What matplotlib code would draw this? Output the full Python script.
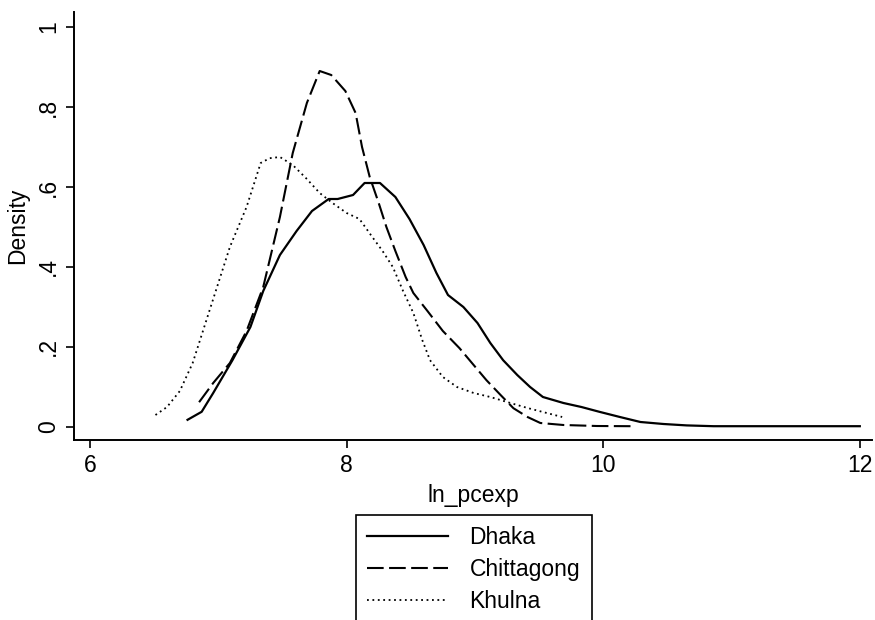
import matplotlib
matplotlib.use("Agg")
from matplotlib import pyplot as plt

plt.rcParams['font.family'] = ['Liberation Sans', 'DejaVu Sans']

# kernel density curves
dhaka_x = [6.76, 6.87, 6.96, 7.11, 7.25, 7.35, 7.48, 7.61, 7.73, 7.86, 7.93, 8.05, 8.14,
           8.26, 8.38, 8.49, 8.60, 8.70, 8.79, 8.91, 9.02, 9.12, 9.22, 9.33, 9.43, 9.53,
           9.69, 9.83, 9.97, 10.13, 10.29, 10.47, 10.65, 10.86, 11.2, 11.6, 12.0]
dhaka_y = [0.018, 0.038, 0.085, 0.167, 0.25, 0.34, 0.43, 0.49, 0.54, 0.57, 0.57, 0.58, 0.61,
           0.61, 0.575, 0.52, 0.455, 0.385, 0.33, 0.30, 0.26, 0.21, 0.167, 0.13, 0.10, 0.075,
           0.06, 0.05, 0.038, 0.025, 0.0125, 0.0075, 0.004, 0.002, 0.002, 0.002, 0.002]

chit_x = [6.85, 6.96, 7.09, 7.22, 7.35, 7.48, 7.58, 7.69, 7.79, 7.88, 7.99, 8.07, 8.12,
          8.18, 8.25, 8.31, 8.38, 8.46, 8.52, 8.63, 8.75, 8.88, 8.99, 9.09, 9.20, 9.30,
          9.41, 9.51, 9.69, 9.95, 10.22]
chit_y = [0.062, 0.11, 0.16, 0.24, 0.35, 0.525, 0.685, 0.81, 0.89, 0.88, 0.84, 0.785, 0.70,
          0.625, 0.56, 0.50, 0.44, 0.375, 0.335, 0.29, 0.24, 0.197, 0.155, 0.117, 0.08, 0.047,
          0.025, 0.01, 0.005, 0.0025, 0.002]

khulna_x = [6.51, 6.60, 6.70, 6.80, 6.88, 6.99, 7.09, 7.22, 7.33, 7.40, 7.48, 7.58, 7.69,
            7.79, 7.89, 8.00, 8.10, 8.20, 8.28, 8.36, 8.44, 8.52, 8.59, 8.65, 8.75, 8.86,
            8.99, 9.12, 9.25, 9.41, 9.56, 9.68]
khulna_y = [0.03, 0.05, 0.09, 0.16, 0.24, 0.35, 0.45, 0.55, 0.66, 0.672, 0.675, 0.655, 0.62,
            0.585, 0.56, 0.535, 0.52, 0.475, 0.44, 0.40, 0.34, 0.285, 0.217, 0.167, 0.125, 0.10,
            0.085, 0.075, 0.0625, 0.0475, 0.035, 0.025]

x_ticks = [6, 8, 10, 12]
y_ticks = [0, 0.2, 0.4, 0.6, 0.8, 1.0]
y_tick_labels = ['0', '.2', '.4', '.6', '.8', '1']

fs = 16.5

fig = plt.figure(figsize=(8.75, 6.2), dpi=100)
ax = fig.add_axes([74 / 875, 1 - 440 / 620, (872 - 74) / 875, (440 - 12) / 620])

ax.plot(dhaka_x, dhaka_y, color='black', lw=1.6, label='Dhaka')
ax.plot(chit_x, chit_y, color='black', lw=1.5, dashes=(8, 2.6), label='Chittagong')
ax.plot(khulna_x, khulna_y, color='black', lw=1.3, dashes=(1, 2.0), label='Khulna')

ax.set_xlim(5.875, 12.095)
ax.set_ylim(-0.0325, 1.0375)
ax.set_xticks(x_ticks)
ax.set_xticklabels([str(t) for t in x_ticks])
ax.set_yticks(y_ticks)
ax.set_yticklabels(y_tick_labels, rotation=90, va='center')

for s in ['top', 'right']:
    ax.spines[s].set_visible(False)
for s in ['left', 'bottom']:
    ax.spines[s].set_linewidth(1.4)
ax.tick_params(direction='out', length=6, width=1.2, labelsize=fs, pad=4)

ax.set_xlabel('ln_pcexp', fontsize=fs, labelpad=5)
ax.set_ylabel('Density', fontsize=fs, labelpad=6)

# legend sits below the axes and runs off the bottom edge, as in the scan
leg = fig.legend(loc='upper left', bbox_to_anchor=(356 / 875, 1 - 515 / 620),
                 fontsize=fs, frameon=True, fancybox=False, framealpha=1,
                 edgecolor='black', handlelength=3.5, handletextpad=0.95,
                 labelspacing=0.38, borderpad=0.5, borderaxespad=0)
leg.get_frame().set_linewidth(1.2)

fig.savefig('out.png', dpi=100)
